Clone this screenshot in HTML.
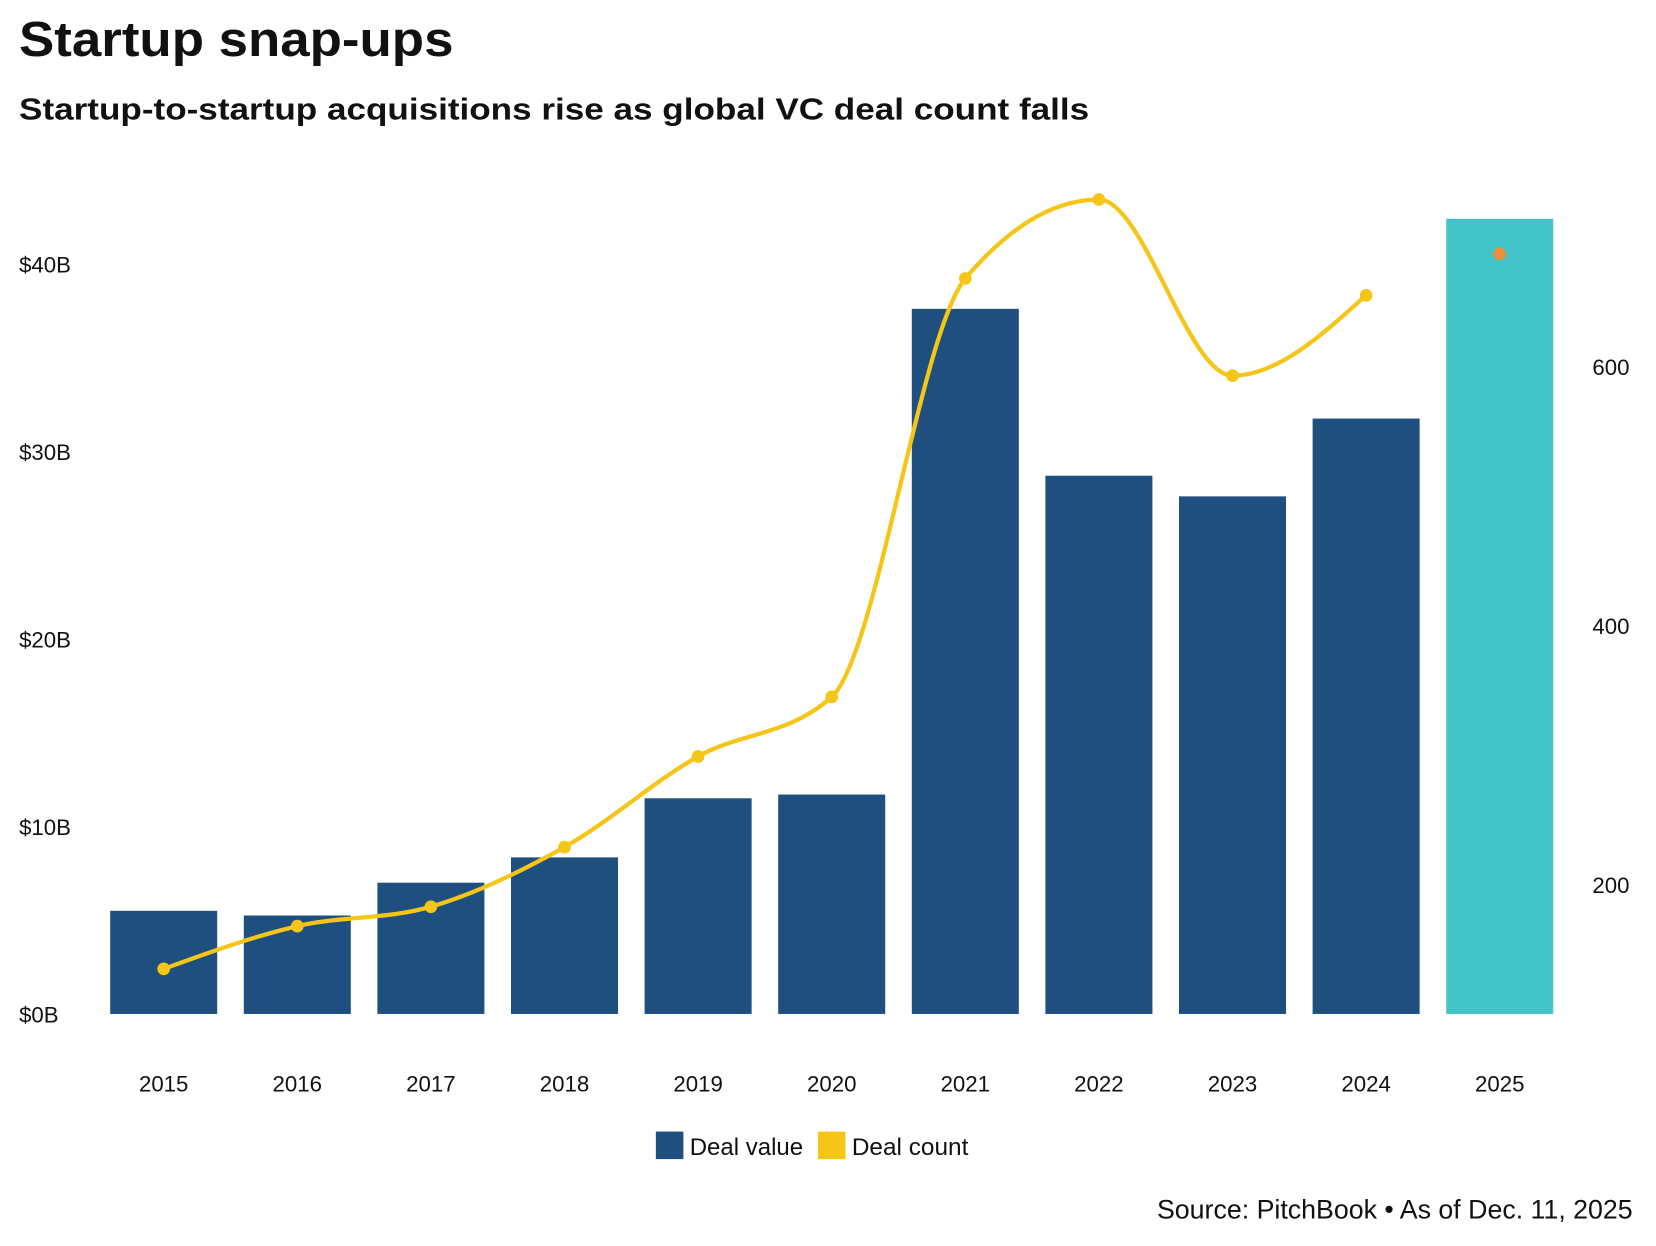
<!DOCTYPE html>
<html><head><meta charset="utf-8"><style>
html,body{margin:0;padding:0;background:#fff;}
svg{display:block;}
text{font-family:"Liberation Sans Narrow","Liberation Sans",sans-serif;fill:#111;}
.t{font-family:"Liberation Sans",sans-serif;}
</style></head><body>
<svg id="chart" width="1656" height="1246" viewBox="0 0 1563 1176">
<text class="t" x="18" y="53" font-size="46" font-weight="bold" textLength="410" lengthAdjust="spacingAndGlyphs">Startup snap-ups</text>
<text class="t" x="18" y="113" font-size="29" font-weight="bold" textLength="1010" lengthAdjust="spacingAndGlyphs">Startup-to-startup acquisitions rise as global VC deal count falls</text>
<g id="yleft"></g>
<g id="yright"></g>
<g id="bars"></g>
<g id="line"></g>
<g id="xaxis"></g>
<g>
<rect x="619" y="1068" width="26" height="26" fill="#1f4f7e"/>
<text x="651" y="1090" font-size="23" textLength="107" lengthAdjust="spacingAndGlyphs">Deal value</text>
<rect x="772" y="1068" width="26" height="26" fill="#f5c518"/>
<text x="804" y="1090" font-size="23" textLength="110" lengthAdjust="spacingAndGlyphs">Deal count</text>
</g>
<text x="1541" y="1150" font-size="25" text-anchor="end" textLength="449" lengthAdjust="spacingAndGlyphs">Source: PitchBook • As of Dec. 11, 2025</text>
</svg>
<script>
const years=["2015","2016","2017","2018","2019","2020","2021","2022","2023","2024","2025"];
const dealValue=[5.5,5.25,7.0,8.35,11.5,11.7,37.6,28.7,27.6,31.75,42.4];
const dealCount=[135,168,183,229,299,345,668,729,593,655,687];
const leftTicks=[0,10,20,30,40];
const rightTicks=[200,400,600];
const NS="http://www.w3.org/2000/svg";
function el(tag,attrs,parent){const e=document.createElementNS(NS,tag);for(const k in attrs)e.setAttribute(k,attrs[k]);parent.appendChild(e);return e;}
const yL=v=>957-v*17.7;
const yR=c=>835-(c-200)*1.2225;
const xC=i=>154.5+i*126.1;
const bw=101;
const gl=document.getElementById('yleft'),gr=document.getElementById('yright'),gb=document.getElementById('bars'),gline=document.getElementById('line'),gx=document.getElementById('xaxis');
leftTicks.forEach(v=>{const t=el('text',{x:18,y:yL(v)+8,'font-size':21},gl);t.textContent='$'+v+'B';

});
rightTicks.forEach(v=>{const t=el('text',{x:1503,y:yR(v)+8,'font-size':21},gr);t.textContent=v;

});
dealValue.forEach((v,i)=>{const r=el('rect',{x:xC(i)-bw/2,y:yL(v),width:bw,height:yL(0)-yL(v),fill:i===10?'#42c4c8':'#1f4f7e'},gb);

});
years.forEach((y,i)=>{const t=el('text',{x:xC(i),y:1030,'font-size':21,'text-anchor':'middle'},gx);t.textContent=y;

});
const P=dealCount.slice(0,10).map((c,i)=>[xC(i),yR(c)]);
const n=P.length,dx=[],s=[],m=[];
for(let i=0;i<n-1;i++){dx.push(P[i+1][0]-P[i][0]);s.push((P[i+1][1]-P[i][1])/dx[i]);}
for(let i=1;i<n-1;i++){if(s[i-1]*s[i]<=0)m[i]=0;else{const h0=dx[i-1],h1=dx[i];const p=(s[i-1]*h1+s[i]*h0)/(h0+h1);m[i]=(Math.sign(s[i-1])+Math.sign(s[i]))*Math.min(Math.abs(s[i-1]),Math.abs(s[i]),0.5*Math.abs(p));}}
m[0]=(3*s[0]-m[1])/2;m[n-1]=(3*s[n-2]-m[n-2])/2;
let d='M'+P[0][0]+','+P[0][1];
for(let i=0;i<n-1;i++){const h=dx[i]/3;d+=` C${P[i][0]+h},${P[i][1]+m[i]*h} ${P[i+1][0]-h},${P[i+1][1]-m[i+1]*h} ${P[i+1][0]},${P[i+1][1]}`;}
const path=el('path',{d:d,fill:'none',stroke:'#f5c518','stroke-width':4},gline);


dealCount.forEach((c,i)=>{const p=el('circle',{cx:xC(i),cy:yR(c),r:6,fill:i===10?'#e8903a':'#f5c518'},gline);

});
</script>
</body></html>
